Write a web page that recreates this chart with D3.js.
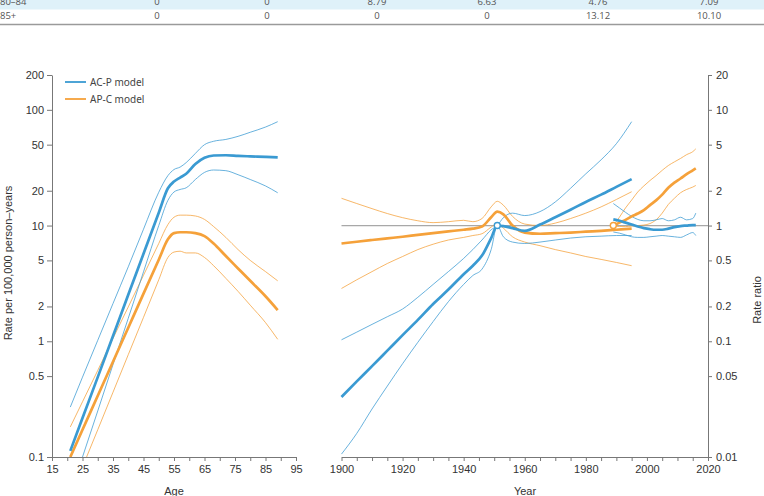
<!DOCTYPE html>
<html>
<head>
<meta charset="utf-8">
<script src="https://cdn.jsdelivr.net/npm/d3@7"></script>
<style>
  body { margin: 0; background: #fff; }
  svg { display: block; }
</style>
</head>
<body>
<svg id="chart" width="764" height="496"></svg>
<script>
// ---- table fragment at the top
const tableRows  = ['80–84', '85+'];
const tableCells = [
    ['0', '0', '8.79', '6.63', '4.76', '7.09'],
    ['0', '0', '0', '0', '13.12', '10.10'],
];

// ---- left panel: age effect, rate per 100,000
const ages       = [21, 25, 30, 35, 40, 45, 50, 53, 55, 57, 59, 62, 65, 68, 72, 76, 80, 85, 89];
const acpRate    = [0.113, 0.217, 0.49, 1.11, 2.52, 5.7, 12.9, 21, 24, 26, 28, 34, 38.5, 40.3, 40.5, 40, 39.6, 39.2, 38.8];
const acpRateHi  = [0.27, 0.49, 1.02, 2.12, 4.4, 9.3, 19.4, 27, 30.5, 32, 35, 42, 50, 53.5, 55.5, 59, 64, 71, 79];
const acpRateLo  = [0.048, 0.1, 0.25, 0.63, 1.58, 3.98, 10, 16.5, 19.5, 20.5, 21.2, 25, 28.8, 30.2, 29.8, 27.5, 25, 22, 19.2];
const apcRate    = [0.1, 0.172, 0.338, 0.665, 1.31, 2.58, 5.07, 7.6, 8.6, 8.75, 8.75, 8.6, 8.1, 7.0, 5.45, 4.26, 3.33, 2.45, 1.86];
const apcRateHi  = [0.182, 0.30, 0.56, 1.06, 1.98, 3.72, 7.0, 10.2, 11.8, 12.3, 12.3, 12.1, 11.3, 9.8, 7.9, 6.2, 5.0, 4.0, 3.33];
const apcRateLo  = [0.045, 0.082, 0.172, 0.363, 0.766, 1.61, 3.4, 5.3, 5.9, 6.0, 5.8, 5.8, 5.3, 4.5, 3.5, 2.7, 2.05, 1.45, 1.04];

// ---- right panel: cohort effect (rate ratio)
const cohorts      = [1900, 1905, 1910, 1915, 1920, 1925, 1930, 1935, 1940, 1943, 1946, 1949, 1951, 1953, 1956, 1960, 1965, 1970, 1975, 1980, 1985, 1990, 1995];
const acpCohort    = [0.033, 0.045, 0.061, 0.083, 0.113, 0.153, 0.21, 0.28, 0.38, 0.45, 0.55, 0.78, 1.0, 0.99, 0.95, 0.90, 1.02, 1.18, 1.37, 1.6, 1.85, 2.16, 2.52];
const acpCohortHi  = [0.103, 0.12, 0.14, 0.163, 0.19, 0.24, 0.31, 0.40, 0.52, 0.62, 0.75, 0.92, 1.0, 1.17, 1.28, 1.22, 1.32, 1.6, 2.1, 2.8, 3.7, 5.1, 7.9];
const acpCohortLo  = [0.0106, 0.016, 0.026, 0.041, 0.064, 0.098, 0.148, 0.22, 0.31, 0.37, 0.42, 0.62, 1.0, 0.80, 0.72, 0.70, 0.72, 0.75, 0.78, 0.80, 0.81, 0.82, 0.82];
const apcCohort    = [0.70, 0.725, 0.75, 0.775, 0.80, 0.83, 0.86, 0.89, 0.92, 0.94, 0.98, 1.18, 1.32, 1.25, 1.0, 0.87, 0.85, 0.86, 0.87, 0.885, 0.90, 0.92, 0.94];
const apcCohortHi  = [1.72, 1.55, 1.40, 1.27, 1.17, 1.10, 1.06, 1.08, 1.11, 1.08, 1.15, 1.45, 1.62, 1.5, 1.2, 1.03, 1.0, 1.05, 1.15, 1.28, 1.45, 1.68, 1.96];
const apcCohortLo  = [0.286, 0.34, 0.40, 0.47, 0.54, 0.62, 0.69, 0.75, 0.79, 0.82, 0.85, 0.97, 1.04, 0.95, 0.80, 0.72, 0.67, 0.62, 0.58, 0.54, 0.51, 0.48, 0.45];

// ---- right panel: period effect (rate ratio)
const periods      = [1989, 1991, 1993, 1995, 1997, 1999, 2001, 2003, 2005, 2007, 2009, 2011, 2013, 2015, 2016];
const acpPeriod    = [1.13, 1.10, 1.06, 1.02, 0.98, 0.95, 0.93, 0.92, 0.92, 0.94, 0.97, 0.99, 1.0, 1.01, 1.01];
const acpPeriodHi  = [1.55, 1.42, 1.30, 1.20, 1.13, 1.10, 1.10, 1.12, 1.15, 1.10, 1.12, 1.18, 1.12, 1.15, 1.28];
const acpPeriodLo  = [0.88, 0.86, 0.83, 0.80, 0.79, 0.79, 0.80, 0.81, 0.82, 0.81, 0.80, 0.79, 0.83, 0.87, 0.82];
const apcPeriod    = [1.0, 1.06, 1.12, 1.2, 1.27, 1.36, 1.5, 1.65, 1.85, 2.12, 2.35, 2.55, 2.78, 3.0, 3.12];
const apcPeriodHi  = [1.0, 1.18, 1.42, 1.66, 1.95, 2.2, 2.45, 2.7, 3.0, 3.3, 3.55, 3.8, 4.1, 4.35, 4.6];
const apcPeriodLo  = [1.0, 0.98, 0.98, 0.99, 1.0, 1.01, 1.04, 1.12, 1.28, 1.52, 1.72, 1.92, 2.05, 2.15, 2.22];

// reference points (open circles)
const refPoints = [
    { model: 'acp', year: 1951, ratio: 1 },
    { model: 'apc', year: 1989, ratio: 1 },
];

const legendItems = [
    { model: 'acp', label: 'AC-P model' },
    { model: 'apc', label: 'AP-C model' },
];

const rateTicks  = [0.1, 0.5, 1, 2, 5, 10, 20, 50, 100, 200];
const ratioTicks = [0.01, 0.05, 0.1, 0.2, 0.5, 1, 2, 5, 10, 20];

const colors = { acp: '#3a9ad2', apc: '#f5a13a' };
const axisFont = "'Liberation Sans', Arial, sans-serif";

function zip (xs, ys) {
    return xs.map((x, i) => { return { x: x, y: ys[i] }; });
}

function drawTable (svg) {
    let colX = [157, 267, 377, 487, 598, 709];
    let rowY = [5, 19];

    svg.append('rect')
        .attr('x', 0).attr('y', 0)
        .attr('width', 764).attr('height', 9.5)
        .attr('fill', '#dff1f9');

    let rows = svg.selectAll('g.trow')
        .data(tableRows)
        .enter()
        .append('g')
        .attr('class', 'trow')
        .attr('transform', (d, i) => { return 'translate(0,' + rowY[i] + ')'; });

    rows.append('text')
        .attr('x', 0)
        .attr('font-family', "'Open Sans', sans-serif")
        .attr('font-size', 9.5)
        .attr('fill', '#555')
        .text((d) => { return d; });

    rows.each(function (d, i) {
        d3.select(this).selectAll('text.cell')
            .data(tableCells[i])
            .enter()
            .append('text')
            .attr('class', 'cell')
            .attr('x', (c, j) => { return colX[j]; })
            .attr('text-anchor', 'middle')
            .attr('font-family', "'Open Sans', sans-serif")
            .attr('font-size', 9.5)
            .attr('fill', '#555')
            .text((c) => { return c; });
    });

    svg.append('line')
        .attr('x1', 0).attr('x2', 764)
        .attr('y1', 24.5).attr('y2', 24.5)
        .attr('stroke', '#9a9a9a')
        .attr('stroke-width', 1.6);
}

function styleAxis (g) {
    g.selectAll('path.domain').attr('stroke', '#777');
    g.selectAll('.tick line').attr('stroke', '#777');
    g.selectAll('.tick text')
        .attr('fill', '#333')
        .attr('font-size', 11)
        .attr('font-family', axisFont);
}

function drawLines (g, series, x, y) {
    let line = d3.line()
        .x((d) => { return x(d.x); })
        .y((d) => { return y(d.y); })
        .curve(d3.curveMonotoneX);

    g.selectAll('path.series')
        .data(series)
        .enter()
        .append('path')
        .attr('class', 'series')
        .attr('d', (d) => { return line(d.points); })
        .attr('fill', 'none')
        .attr('stroke', (d) => { return colors[d.model]; })
        .attr('stroke-width', (d) => { return d.thick ? 2.7 : 0.9; })
        .attr('stroke-opacity', (d) => { return d.thick ? 1 : 0.85; })
        .attr('stroke-linejoin', 'round');
}

function drawLeft (svg) {
    let x = d3.scaleLinear().domain([15, 95]).range([52, 296]);
    let y = d3.scaleLog().domain([0.1, 200]).range([457, 75]);

    svg.append('clipPath').attr('id', 'clipLeft')
        .append('rect')
        .attr('x', 52).attr('y', 75)
        .attr('width', 244).attr('height', 382);

    let series = [
        { model: 'apc', thick: false, points: zip(ages, apcRateHi) },
        { model: 'apc', thick: false, points: zip(ages, apcRateLo) },
        { model: 'acp', thick: false, points: zip(ages, acpRateHi) },
        { model: 'acp', thick: false, points: zip(ages, acpRateLo) },
        { model: 'apc', thick: true,  points: zip(ages, apcRate) },
        { model: 'acp', thick: true,  points: zip(ages, acpRate) },
    ];

    let plot = svg.append('g').attr('clip-path', 'url(#clipLeft)');
    drawLines(plot, series, x, y);

    let yAxis = svg.append('g')
        .attr('transform', 'translate(52,0)')
        .call(d3.axisLeft(y)
            .tickValues(rateTicks)
            .tickFormat((d) => { return String(d); })
            .tickSize(5)
            .tickSizeOuter(0)
            .tickPadding(3));
    styleAxis(yAxis);

    let xAxis = svg.append('g')
        .attr('transform', 'translate(0,457)')
        .call(d3.axisBottom(x)
            .tickValues(d3.range(15, 96, 5))
            .tickFormat((d) => { return (d - 15) % 10 === 0 ? String(d) : ''; })
            .tickSize(4)
            .tickSizeOuter(0)
            .tickPadding(4));
    styleAxis(xAxis);

    svg.append('text')
        .attr('x', 174).attr('y', 495)
        .attr('text-anchor', 'middle')
        .attr('font-family', axisFont)
        .attr('font-size', 11)
        .attr('fill', '#333')
        .text('Age');

    svg.append('text')
        .attr('transform', 'translate(12,263) rotate(-90)')
        .attr('text-anchor', 'middle')
        .attr('font-family', axisFont)
        .attr('font-size', 11)
        .attr('fill', '#333')
        .text('Rate per 100,000 person–years');

    // legend
    let legend = svg.selectAll('g.legend')
        .data(legendItems)
        .enter()
        .append('g')
        .attr('class', 'legend')
        .attr('transform', (d, i) => { return 'translate(65,' + (82 + i * 17) + ')'; });

    legend.append('line')
        .attr('x1', 0).attr('x2', 21)
        .attr('stroke', (d) => { return colors[d.model]; })
        .attr('stroke-width', 1.8);

    legend.append('text')
        .attr('x', 25).attr('y', 3.5)
        .attr('font-family', "'Noto Sans', sans-serif")
        .attr('font-size', 10)
        .attr('fill', '#444')
        .text((d) => { return d.label; });
}

function drawRight (svg) {
    let x = d3.scaleLinear().domain([1900, 2020]).range([341.5, 708]);
    let y = d3.scaleLog().domain([0.01, 20]).range([457, 75]);

    svg.append('line')
        .attr('x1', x(1900)).attr('x2', x(2020))
        .attr('y1', y(1)).attr('y2', y(1))
        .attr('stroke', '#a8a8a8')
        .attr('stroke-width', 1.2);

    let series = [
        { model: 'apc', thick: false, points: zip(cohorts, apcCohortHi) },
        { model: 'apc', thick: false, points: zip(cohorts, apcCohortLo) },
        { model: 'apc', thick: false, points: zip(periods, apcPeriodHi) },
        { model: 'apc', thick: false, points: zip(periods, apcPeriodLo) },
        { model: 'acp', thick: false, points: zip(cohorts, acpCohortHi) },
        { model: 'acp', thick: false, points: zip(cohorts, acpCohortLo) },
        { model: 'acp', thick: false, points: zip(periods, acpPeriodHi) },
        { model: 'acp', thick: false, points: zip(periods, acpPeriodLo) },
        { model: 'apc', thick: true,  points: zip(cohorts, apcCohort) },
        { model: 'apc', thick: true,  points: zip(periods, apcPeriod) },
        { model: 'acp', thick: true,  points: zip(cohorts, acpCohort) },
        { model: 'acp', thick: true,  points: zip(periods, acpPeriod) },
    ];

    let plot = svg.append('g');
    drawLines(plot, series, x, y);

    plot.selectAll('circle.ref')
        .data(refPoints)
        .enter()
        .append('circle')
        .attr('class', 'ref')
        .attr('cx', (d) => { return x(d.year); })
        .attr('cy', (d) => { return y(d.ratio); })
        .attr('r', 3)
        .attr('fill', '#fff')
        .attr('stroke', (d) => { return colors[d.model]; })
        .attr('stroke-width', 1.4);

    let yAxis = svg.append('g')
        .attr('transform', 'translate(708,0)')
        .call(d3.axisRight(y)
            .tickValues(ratioTicks)
            .tickFormat((d) => { return String(d); })
            .tickSize(4)
            .tickSizeOuter(0)
            .tickPadding(4));
    styleAxis(yAxis);

    let xAxis = svg.append('g')
        .attr('transform', 'translate(0,457)')
        .call(d3.axisBottom(x)
            .tickValues(d3.range(1900, 2021, 5))
            .tickFormat((d) => { return d % 20 === 0 ? String(d) : ''; })
            .tickSize(4)
            .tickSizeOuter(0)
            .tickPadding(4));
    styleAxis(xAxis);

    svg.append('text')
        .attr('x', 525).attr('y', 495)
        .attr('text-anchor', 'middle')
        .attr('font-family', axisFont)
        .attr('font-size', 11)
        .attr('fill', '#333')
        .text('Year');

    svg.append('text')
        .attr('transform', 'translate(761,300) rotate(-90)')
        .attr('text-anchor', 'middle')
        .attr('font-family', axisFont)
        .attr('font-size', 11)
        .attr('fill', '#333')
        .text('Rate ratio');
}

let svg = d3.select('#chart');
drawTable(svg);
drawLeft(svg);
drawRight(svg);
</script>
</body>
</html>
